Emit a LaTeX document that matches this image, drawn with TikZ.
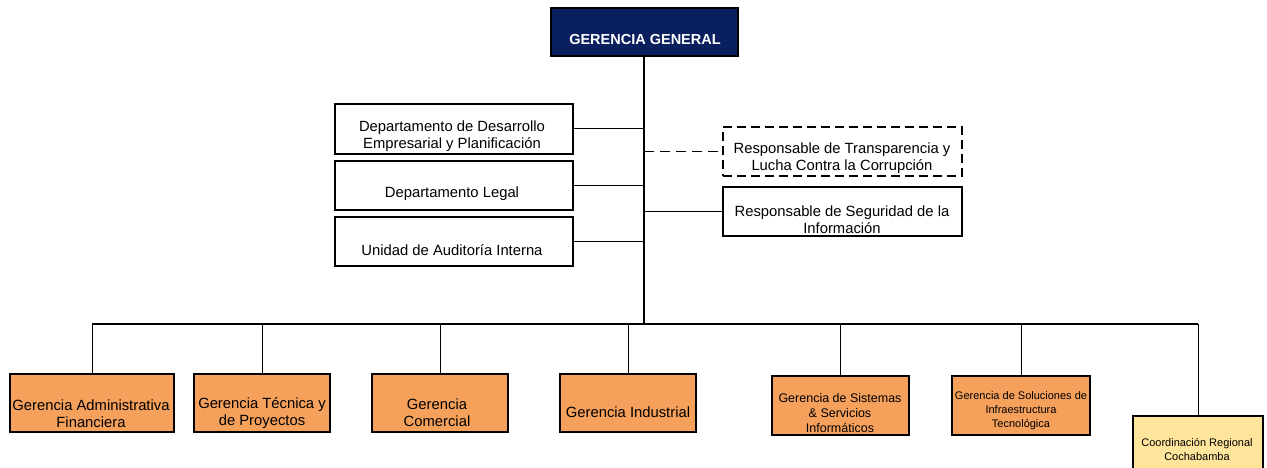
\documentclass[tikz,border=0pt]{standalone}
\usepackage{fontspec}
\setmainfont{Liberation Sans}
\definecolor{navy}{HTML}{0A1F5E}
\definecolor{orangebox}{HTML}{F5A05B}
\definecolor{yellowbox}{HTML}{FEE59B}
\tikzset{
  box/.style={draw=black, line width=1.1pt, inner sep=0pt},
  wbox/.style={box, fill=white},
  obox/.style={box, fill=orangebox},
  ybox/.style={box, fill=yellowbox},
  dbox/.style={draw=black, line width=1.1pt, dash pattern=on 9pt off 5pt, fill=white, inner sep=0pt},
  txt/.style={align=center, inner sep=0pt, font=\fontsize{14.8}{17}\selectfont},
  stxt/.style={align=center, inner sep=0pt, font=\fontsize{12.5}{15}\selectfont},
  xtxt/.style={align=center, inner sep=0pt, font=\fontsize{11}{14}\selectfont},
  conn/.style={draw=black, line width=1pt},
  dconn/.style={draw=black, line width=1pt, dash pattern=on 10pt off 6pt},
}
\newcommand{\boxat}[6]{% style, name, x1, y1, x2, y2
  \node[#1, minimum width={(#5-#3)*1pt}, minimum height={(#6-#4)*1pt}] (#2) at ({(#3+#5)/2},{(#4+#6)/2}) {};}
\begin{document}
\begin{tikzpicture}[x=1pt,y=-1pt]
\useasboundingbox (0,0) rectangle (1267,468);
% trunk and bus
\coordinate (top) at (644,56);
\coordinate (bot) at (644,324);
\coordinate (busL) at (92,324);
\coordinate (busR) at (1198,324);
\draw[black, line width=2.4pt] (top) -- (bot);
\draw[black, line width=1.4pt] (busL) -- (busR);
% top box
\boxat{box, fill=navy}{gg}{551}{8}{738}{56}
\node[txt, text=white, font=\bfseries\fontsize{14.5}{17}\selectfont] (tgg) at (645,40) {GERENCIA GENERAL};
% left staff boxes
\boxat{wbox}{ddep}{335}{104}{573}{154}
\node[txt] (tddep) at (452,136.5) {Departamento de Desarrollo\\Empresarial y Planificación};
\boxat{wbox}{dleg}{335}{161}{573}{210}
\node[txt] (tdleg) at (452,194) {Departamento Legal};
\boxat{wbox}{daud}{335}{217}{573}{266}
\node[txt] (tdaud) at (452,250) {Unidad de Auditoría Interna};
% right staff boxes
\boxat{dbox}{rtra}{723}{127}{962}{176}
\node[txt] (trtra) at (842,158) {Responsable de Transparencia y\\Lucha Contra la Corrupción};
\boxat{wbox}{rseg}{723}{187}{962}{236}
\node[txt] (trseg) at (842,219.5) {Responsable de Seguridad de la\\Información};
% staff connectors
\draw[conn] (ddep.east) -- (ddep.east -| top);
\draw[conn] (dleg.east) -- (dleg.east -| top);
\draw[conn] (daud.east) -- (daud.east -| top);
\draw[dconn] (rtra.west -| top) -- (rtra.west);
\draw[conn] (rseg.west -| top) -- (rseg.west);
% bottom boxes
\boxat{obox}{gaf}{10}{374}{174}{432}
\node[txt] (tgaf) at (91,413.5) {Gerencia Administrativa\\Financiera};
\boxat{obox}{gtp}{194}{374}{330}{432}
\node[txt] (tgtp) at (262,413.5) {Gerencia Técnica y\\de Proyectos};
\boxat{obox}{gco}{372}{374}{508}{432}
\node[txt] (tgco) at (437,412.5) {Gerencia\\Comercial};
\boxat{obox}{gin}{560}{374}{696}{432}
\node[txt] (tgin) at (628,412) {Gerencia Industrial};
\boxat{obox}{gsi}{772}{376}{909}{435}
\node[stxt] (tgsi) at (840,413) {Gerencia de Sistemas\\\& Servicios\\Informáticos};
\boxat{obox}{gso}{952}{376}{1090}{435}
\node[xtxt] (tgso) at (1021,411) {Gerencia de Soluciones de\\Infraestructura\\Tecnológica};
\boxat{ybox}{crc}{1133}{416}{1263}{476}
\node[xtxt] (tcrc) at (1197,450) {Coordinación Regional\\Cochabamba};
% drops
\foreach \n in {gaf,gtp,gco,gin,gsi,gso,crc}
  \draw[conn] (\n.north) -- (\n.north |- bot);
\end{tikzpicture}
\end{document}
